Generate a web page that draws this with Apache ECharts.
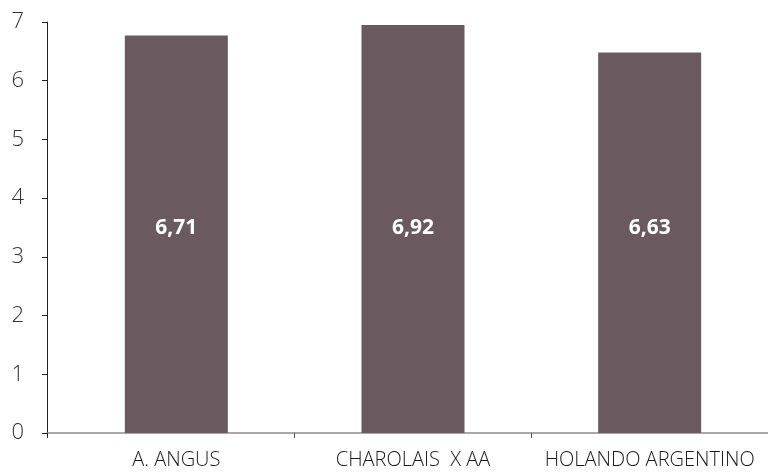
<!DOCTYPE html>
<html>
<head>
<meta charset="utf-8">
<script src="https://cdn.jsdelivr.net/npm/echarts@6/dist/echarts.min.js"></script>
<style>html,body{margin:0;padding:0;background:#fff}#c{width:768px;height:472px}</style>
</head>
<body>
<div id="c"></div>
<script>
const categories = ['A. ANGUS', 'CHAROLAIS  X AA', 'HOLANDO ARGENTINO'];
const values = [6.77, 6.95, 6.48];
const valueLabels = ['6,71', '6,92', '6,63'];
const yTicks = [0, 1, 2, 3, 4, 5, 6, 7];

const chart = echarts.init(document.getElementById('c'));
chart.setOption({
  animation: false,
  backgroundColor: '#fff',
  grid: [
    {left: 58, right: 0, top: 22, bottom: 39},
    {left: 47, right: 0, top: 22, bottom: 39}
  ],
  xAxis: [
    {
      type: 'category', gridIndex: 0, data: categories,
      axisLine: {show: false},
      axisTick: {show: true, length: 5, lineStyle: {color: '#555', width: 1},
        interval: function (i) { return i !== 0; }},
      axisLabel: {color: '#1a1a1a', fontFamily: 'Open Sans', fontWeight: 300, fontSize: 20, margin: 17, interval: 0}
    },
    {
      type: 'value', gridIndex: 1, min: 0, max: 1,
      axisLine: {show: true, lineStyle: {color: '#8c8c8c', width: 1.5}},
      axisTick: {show: true, length: 5, customValues: [0], lineStyle: {color: '#222', width: 1}},
      axisLabel: {show: false}, splitLine: {show: false}
    }
  ],
  yAxis: [
    {
      type: 'value', gridIndex: 0, min: 0, max: 7, interval: 1, offset: 11,
      axisLine: {show: true, lineStyle: {color: '#222', width: 1}},
      axisTick: {show: true, length: 5, lineStyle: {color: '#222'}},
      axisLabel: {color: '#333', fontFamily: 'Open Sans', fontWeight: 300, fontSize: 22, margin: 23,
        formatter: function (v) { return yTicks.indexOf(v) >= 0 ? String(v) : ''; }},
      splitLine: {show: false}
    },
    {
      type: 'value', gridIndex: 1, min: 0, max: 7, show: false
    }
  ],
  series: [{
    type: 'bar', xAxisIndex: 0, yAxisIndex: 0,
    data: values,
    barWidth: 103,
    itemStyle: {color: '#6a5a5f'},
    label: {
      show: true, position: 'insideBottom', distance: 194,
      color: '#fff', fontFamily: 'Open Sans', fontWeight: 'bold', fontSize: 21,
      formatter: function (p) { return valueLabels[p.dataIndex]; }
    }
  }]
});
</script>
</body>
</html>
